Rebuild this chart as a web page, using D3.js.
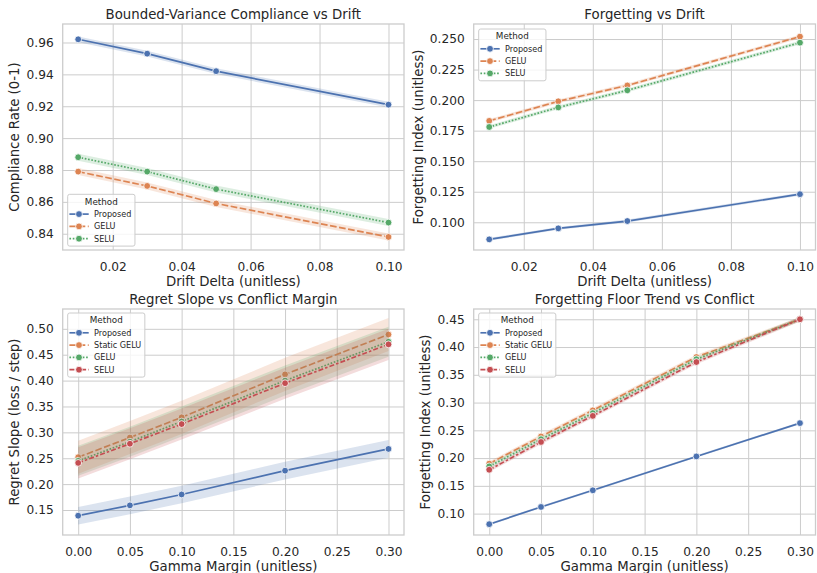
<!DOCTYPE html>
<html>
<head>
<meta charset="utf-8">
<script src="https://cdn.jsdelivr.net/npm/d3@7"></script>
<style>
  body { margin: 0; background: #fff; }
  text { font-family: "DejaVu Sans", sans-serif; fill: #262626; }
</style>
</head>
<body>
<div id="chart"></div>
<script>
// ---- data ----
var driftDelta = [0.01, 0.03, 0.05, 0.10];
var gammaMargin = [0.00, 0.05, 0.10, 0.20, 0.30];

var driftMethods = ["Proposed", "GELU", "SELU"];
var conflictMethods = ["Proposed", "Static GELU", "GELU", "SELU"];

// compliance rate vs drift
var complianceProposed = [0.962, 0.953, 0.942, 0.921];
var complianceGELU = [0.879, 0.870, 0.859, 0.838];
var complianceSELU = [0.888, 0.879, 0.868, 0.847];
var complianceErr = [0.0018, 0.0022, 0.0022];

// forgetting vs drift
var forgetProposed = [0.086, 0.095, 0.101, 0.123];
var forgetGELU = [0.183, 0.199, 0.212, 0.252];
var forgetSELU = [0.178, 0.194, 0.208, 0.247];
var forgetErr = [0.0012, 0.0015, 0.0015];

// regret slope vs conflict margin
var regretProposed = [0.139, 0.159, 0.180, 0.226, 0.268];
var regretStaticGELU = [0.252, 0.290, 0.329, 0.412, 0.489];
var regretGELU = [0.245, 0.282, 0.321, 0.400, 0.475];
var regretSELU = [0.241, 0.278, 0.316, 0.395, 0.470];
var regretErr = [0.017, 0.032, 0.029, 0.030];

// forgetting floor vs conflict
var floorProposed = [0.081, 0.112, 0.142, 0.203, 0.263];
var floorStaticGELU = [0.190, 0.239, 0.286, 0.382, 0.450];
var floorGELU = [0.185, 0.234, 0.281, 0.378, 0.450];
var floorSELU = [0.179, 0.229, 0.276, 0.373, 0.450];
var floorErr = [0.002, 0.004, 0.004, 0.004];

// seaborn "deep" palette and style dashes (scaled by line width)
var palette = ["#4c72b0", "#dd8452", "#55a868", "#c44e52"];
var dashes = [null, "6.7,2.5", "1.67,1.67", "5,2.1,2.5,2.1"];

var W = 817, H = 573;
var svg = d3.select("#chart").append("svg")
    .attr("width", W)
    .attr("height", H);

/**
 * One line panel with error bands, grid, legend
 */
function LinePanel(opts) {
    var self = this;
    self.opts = opts;
    self.init();
    self.update();
}

LinePanel.prototype.init = function () {
    var self = this;
    var o = self.opts;
    self.g = svg.append("g");
    self.x = d3.scaleLinear().domain(o.xDomain).range([o.box[0], o.box[1]]);
    self.y = d3.scaleLinear().domain(o.yDomain).range([o.box[3], o.box[2]]);
};

LinePanel.prototype.update = function () {
    var self = this;
    var o = self.opts, g = self.g, x = self.x, y = self.y;
    var left = o.box[0], right = o.box[1], top = o.box[2], bottom = o.box[3];

    // grid (drawn with axes so ticks come from d3)
    var xAxis = g.append("g")
        .attr("transform", "translate(0," + bottom + ")")
        .call(d3.axisBottom(x).tickValues(o.xTicks).tickFormat(d3.format(o.xFormat))
            .tickSize(-(bottom - top)).tickPadding(9));
    var yAxis = g.append("g")
        .attr("transform", "translate(" + left + ",0)")
        .call(d3.axisLeft(y).tickValues(o.yTicks).tickFormat(d3.format(o.yFormat))
            .tickSize(-(right - left)).tickPadding(9));
    [xAxis, yAxis].forEach(function (a) {
        a.select(".domain").remove();
        a.selectAll(".tick line").attr("stroke", "#cccccc").attr("stroke-width", 1);
        a.selectAll(".tick text")
            .attr("font-size", 12.2)
            .attr("font-family", "DejaVu Sans")
            .attr("fill", "#262626");
    });
    xAxis.selectAll(".tick text").attr("dy", "0.95em");

    // frame
    g.append("rect")
        .attr("x", left).attr("y", top)
        .attr("width", right - left).attr("height", bottom - top)
        .attr("fill", "none")
        .attr("stroke", "#cccccc")
        .attr("stroke-width", 1.3);

    // series
    var area = d3.area()
        .x(function (d) { return x(d.x); })
        .y0(function (d) { return y(d.y - d.e); })
        .y1(function (d) { return y(d.y + d.e); });
    var line = d3.line()
        .x(function (d) { return x(d.x); })
        .y(function (d) { return y(d.y); });

    o.series.forEach(function (s, i) {
        var pts = o.xs.map(function (xv, j) { return { x: xv, y: s.values[j], e: s.err }; });
        g.append("path")
            .datum(pts)
            .attr("d", area)
            .attr("fill", palette[i])
            .attr("fill-opacity", 0.2);
        g.append("path")
            .datum(pts)
            .attr("d", line)
            .attr("fill", "none")
            .attr("stroke", palette[i])
            .attr("stroke-width", 1.67)
            .attr("stroke-dasharray", dashes[i]);
        g.selectAll(null)
            .data(pts)
            .enter()
            .append("circle")
            .attr("cx", function (d) { return x(d.x); })
            .attr("cy", function (d) { return y(d.y); })
            .attr("r", 3.4)
            .attr("fill", palette[i])
            .attr("stroke", "#fff")
            .attr("stroke-width", 0.8);
    });

    // title + labels
    g.append("text")
        .attr("x", (left + right) / 2)
        .attr("y", top - 5)
        .attr("text-anchor", "middle")
        .attr("font-size", 13.3)
        .text(o.title);
    g.append("text")
        .attr("x", (left + right) / 2)
        .attr("y", bottom + 35.5)
        .attr("text-anchor", "middle")
        .attr("font-size", 13.3)
        .text(o.xLabel);
    g.append("text")
        .attr("transform", "translate(" + (left - o.yLabelOffset) + "," + ((top + bottom) / 2) + ") rotate(-90)")
        .attr("text-anchor", "middle")
        .attr("font-size", 13.3)
        .text(o.yLabel);

    self.drawLegend();
};

LinePanel.prototype.drawLegend = function () {
    var self = this;
    var o = self.opts;
    var lg = self.g.append("g").attr("transform", "translate(" + o.legend[0] + "," + o.legend[1] + ")");
    var frame = lg.append("rect");

    lg.append("text")
        .attr("y", 7.2)
        .attr("dy", "0.35em")
        .attr("text-anchor", "middle")
        .attr("font-size", 8.8)
        .text("Method");

    var maxW = 0;
    o.series.forEach(function (s, i) {
        var cy = 19.8 + i * 12.3;
        lg.append("line")
            .attr("x1", 1.7).attr("x2", 21)
            .attr("y1", cy).attr("y2", cy)
            .attr("stroke", palette[i])
            .attr("stroke-width", 1.67)
            .attr("stroke-dasharray", dashes[i]);
        lg.append("circle")
            .attr("cx", 11.3).attr("cy", cy).attr("r", 3.4)
            .attr("fill", palette[i])
            .attr("stroke", "#fff")
            .attr("stroke-width", 0.8);
        var t = lg.append("text")
            .attr("x", 26.4).attr("y", cy)
            .attr("dy", "0.35em")
            .attr("font-size", 8.1)
            .text(s.name);
        maxW = Math.max(maxW, t.node().getComputedTextLength());
    });

    var w = 26.4 + maxW + 3.6;
    var h = 19.8 + (o.series.length - 1) * 12.3 + 7.4;
    lg.select("text").attr("x", w / 2);
    frame.attr("width", w).attr("height", h)
        .attr("rx", 2).attr("ry", 2)
        .attr("fill", "#fff").attr("fill-opacity", 0.8)
        .attr("stroke", "#cccccc").attr("stroke-width", 1);
};

function seriesFor(names, vals, errs) {
    return names.map(function (n, i) { return { name: n, values: vals[i], err: errs[i] }; });
}

new LinePanel({
    box: [62.7, 404, 24, 250],
    xs: driftDelta,
    xDomain: [0.0055, 0.1045], yDomain: [0.8298, 0.9716],
    xTicks: [0.02, 0.04, 0.06, 0.08, 0.10], xFormat: ".2f",
    yTicks: [0.84, 0.86, 0.88, 0.90, 0.92, 0.94, 0.96], yFormat: ".2f",
    title: "Bounded-Variance Compliance vs Drift",
    xLabel: "Drift Delta (unitless)", yLabel: "Compliance Rate (0-1)",
    yLabelOffset: 44,
    legend: [67.7, 194.3],
    series: seriesFor(driftMethods, [complianceProposed, complianceGELU, complianceSELU], complianceErr)
});

new LinePanel({
    box: [473.7, 815.5, 24, 250],
    xs: driftDelta,
    xDomain: [0.0055, 0.1045], yDomain: [0.0773, 0.2623],
    xTicks: [0.02, 0.04, 0.06, 0.08, 0.10], xFormat: ".2f",
    yTicks: [0.100, 0.125, 0.150, 0.175, 0.200, 0.225, 0.250], yFormat: ".3f",
    title: "Forgetting vs Drift",
    xLabel: "Drift Delta (unitless)", yLabel: "Forgetting Index (unitless)",
    yLabelOffset: 50.7,
    legend: [478.7, 29],
    series: seriesFor(driftMethods, [forgetProposed, forgetGELU, forgetSELU], forgetErr)
});

new LinePanel({
    box: [62.7, 404, 309, 535],
    xs: gammaMargin,
    xDomain: [-0.015, 0.315], yDomain: [0.1017, 0.5383],
    xTicks: [0, 0.05, 0.10, 0.15, 0.20, 0.25, 0.30], xFormat: ".2f",
    yTicks: [0.15, 0.20, 0.25, 0.30, 0.35, 0.40, 0.45, 0.50], yFormat: ".2f",
    title: "Regret Slope vs Conflict Margin",
    xLabel: "Gamma Margin (unitless)", yLabel: "Regret Slope (loss / step)",
    yLabelOffset: 44,
    legend: [67.7, 313],
    series: seriesFor(conflictMethods, [regretProposed, regretStaticGELU, regretGELU, regretSELU], regretErr)
});

new LinePanel({
    box: [473.7, 815.5, 309, 535],
    xs: gammaMargin,
    xDomain: [-0.015, 0.315], yDomain: [0.0615, 0.4685],
    xTicks: [0, 0.05, 0.10, 0.15, 0.20, 0.25, 0.30], xFormat: ".2f",
    yTicks: [0.10, 0.15, 0.20, 0.25, 0.30, 0.35, 0.40, 0.45], yFormat: ".2f",
    title: "Forgetting Floor Trend vs Conflict",
    xLabel: "Gamma Margin (unitless)", yLabel: "Forgetting Index (unitless)",
    yLabelOffset: 44,
    legend: [478.7, 313],
    series: seriesFor(conflictMethods, [floorProposed, floorStaticGELU, floorGELU, floorSELU], floorErr)
});
</script>
</body>
</html>
